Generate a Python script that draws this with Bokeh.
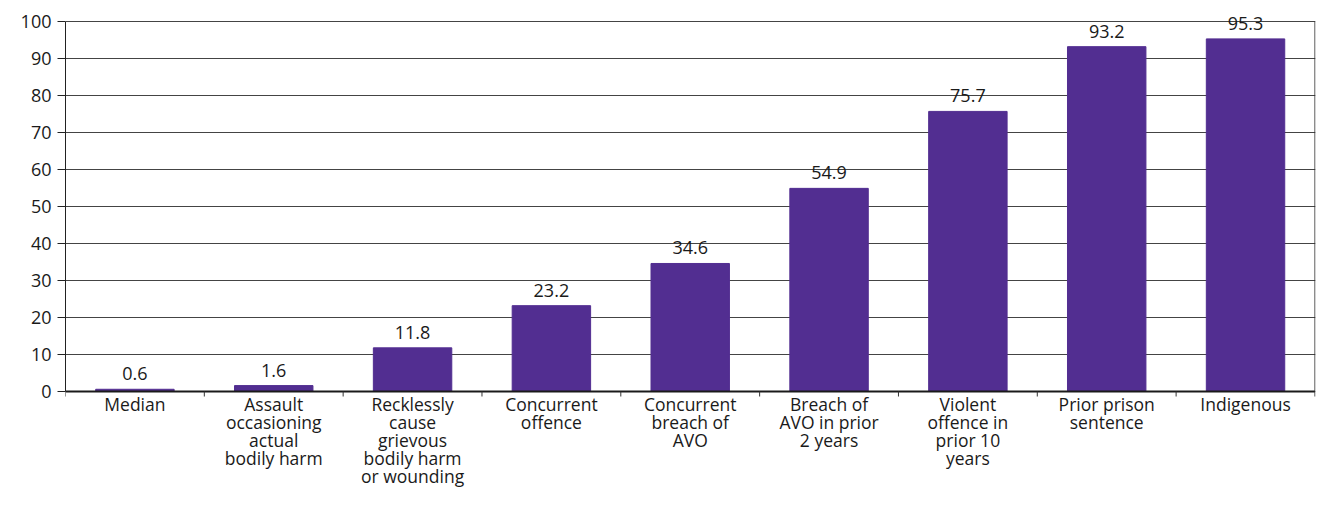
from bokeh.plotting import figure
from bokeh.models import ColumnDataSource, FixedTicker, Range1d, LabelSet
from bokeh.core.properties import value
from bokeh.embed import file_html
from bokeh.resources import INLINE

categories = ["Median", "Assault\noccasioning\nactual\nbodily harm",
              "Recklessly\ncause\ngrievous\nbodily harm\nor wounding",
              "Concurrent\noffence", "Concurrent\nbreach of\nAVO",
              "Breach of\nAVO in prior\n2 years", "Violent\noffence in\nprior 10\nyears",
              "Prior prison\nsentence", "Indigenous"]
values = [0.6, 1.6, 11.8, 23.2, 34.6, 54.9, 75.7, 93.2, 95.3]
value_labels = ["0.6", "1.6", "11.8", "23.2", "34.6", "54.9", "75.7", "93.2", "95.3"]
y_ticks = list(range(0, 101, 10))

FONT = "Open Sans"
TXT = "#1a1a1a"
W, H = 1317, 490
TOP, LEFT, RIGHT = 21, 65, 2
ZERO_PX = 391  # pixel row of y=0 in the figure

n = len(categories)
xs = [i + 0.5 for i in range(n)]
px_per_unit = (ZERO_PX - TOP) / 100.0
y_min = -(H - ZERO_PX) / px_per_unit
y_max = 100 + TOP / px_per_unit

src = ColumnDataSource(dict(x=xs, top=values, lab=value_labels, cat=categories,
                            zero=[0] * n))

p = figure(width=W, height=H, output_backend="svg", toolbar_location=None,
           x_range=Range1d(0, n + 0.004), y_range=Range1d(y_min, y_max),
           min_border_left=LEFT, min_border_right=RIGHT, min_border_top=0,
           min_border_bottom=0)
p.vbar(x="x", top="top", width=0.565, source=src, color="#522E91")

labels = LabelSet(x="x", y="top", text="lab", source=src, text_align="center",
                  text_baseline="alphabetic", y_offset=9, text_font=value(FONT),
                  text_font_size="18px", text_color=TXT)
p.add_layout(labels)

# baseline, right border and category separator ticks
bounds = list(range(0, n + 1))
tick_len = 5 / px_per_unit
p.segment(x0=0, y0=0, x1=n, y1=0, line_color="#1a1a1a", line_width=2)
p.segment(x0=n, y0=0, x1=n, y1=100, line_color="#333333", line_width=1)
p.segment(x0=bounds, y0=[0] * len(bounds), x1=bounds, y1=[-tick_len] * len(bounds),
          line_color="#333333", line_width=1)

# category labels
p.text(x="x", y="zero", text="cat", source=src, text_align="center",
       text_baseline="top", y_offset=0, text_font=value(FONT),
       text_font_size="17.5px", text_color=TXT, text_line_height=0.76)

p.xaxis.visible = False
p.yaxis.ticker = FixedTicker(ticks=y_ticks)
p.yaxis.bounds = (0, 100)
p.yaxis.major_tick_out = 8
p.yaxis.major_tick_in = 0
p.yaxis.minor_tick_line_color = None
p.yaxis.axis_line_color = "#222222"
p.yaxis.major_tick_line_color = "#222222"
p.yaxis.major_label_text_font = FONT
p.yaxis.major_label_text_font_size = "18px"
p.yaxis.major_label_text_color = TXT
p.yaxis.major_label_standoff = 6

p.xgrid.grid_line_color = None
p.ygrid.ticker = FixedTicker(ticks=y_ticks)
p.ygrid.grid_line_color = "#444444"
p.ygrid.grid_line_width = 1
p.outline_line_color = None
p.background_fill_color = "white"
p.border_fill_color = "white"

open("out.html", "w").write(file_html(p, INLINE))
